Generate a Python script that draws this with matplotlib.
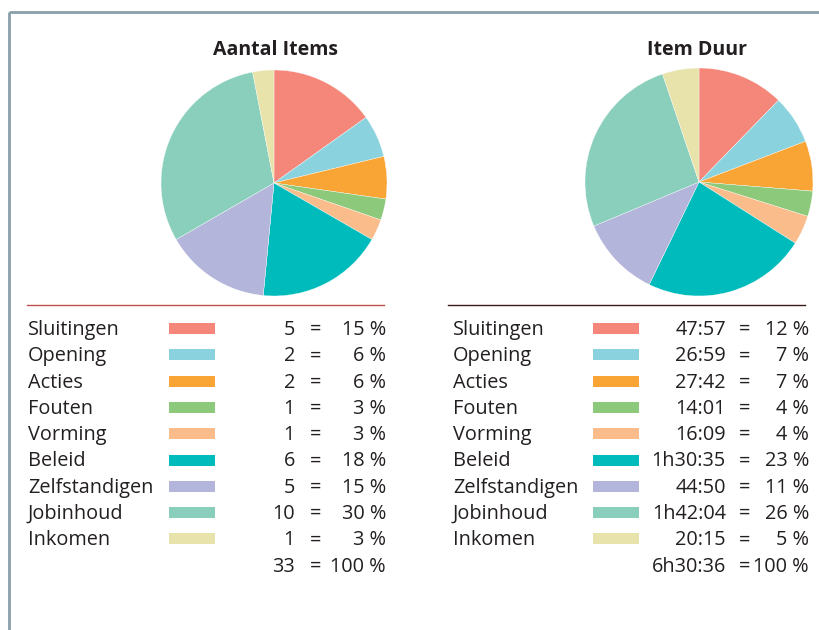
import matplotlib
matplotlib.use("Agg")
import matplotlib.pyplot as plt
from matplotlib.patches import Rectangle

plt.rcParams['font.family'] = ['Open Sans', 'DejaVu Sans']

categories = ['Sluitingen', 'Opening', 'Acties', 'Fouten', 'Vorming',
              'Beleid', 'Zelfstandigen', 'Jobinhoud', 'Inkomen']
colors = ['#f4877a', '#8ad3de', '#f9a535', '#8cc97a', '#f9bc8a',
          '#00bbbc', '#b3b5da', '#8acfbc', '#e8e3aa']

# left pie: number of items
item_counts = [5, 2, 2, 1, 1, 6, 5, 10, 1]
item_pct = [15, 6, 6, 3, 3, 18, 15, 30, 3]
item_total = '33'

# right pie: duration per item
duur_labels = ['47:57', '26:59', '27:42', '14:01', '16:09',
               '1h30:35', '44:50', '1h42:04', '20:15']
duur_pct = [12, 7, 7, 4, 4, 23, 11, 26, 5]
duur_total = '6h30:36'


def to_seconds(s):
    h = 0
    if 'h' in s:
        hs, s = s.split('h')
        h = int(hs)
    m, sec = s.split(':')
    return h * 3600 + int(m) * 60 + int(sec)


duur_seconds = [to_seconds(s) for s in duur_labels]

W, H = 820, 630
fig = plt.figure(figsize=(W / 100, H / 100), dpi=100)

# overlay in pixel coordinates for frame, legends and titles
bg = fig.add_axes([0, 0, 1, 1])
bg.set_xlim(0, W)
bg.set_ylim(H, 0)
bg.axis('off')

frame_col = '#8a9fa9'
bg.plot([9, 9], [12, H], color=frame_col, lw=2, solid_capstyle='butt')
bg.plot([9, W], [12, 12], color=frame_col, lw=2, solid_capstyle='butt')


def draw_pie(cx, cy, r, values):
    ax = fig.add_axes([(cx - r) / W, (H - cy - r) / H, 2 * r / W, 2 * r / H])
    ax.pie(values, colors=colors, startangle=90, counterclock=False,
           radius=1, wedgeprops=dict(edgecolor='white', linewidth=0.25))
    ax.set_xlim(-1, 1)
    ax.set_ylim(-1, 1)
    ax.set_aspect('auto')
    ax.axis('off')


draw_pie(274, 183, 113, item_counts)
draw_pie(699, 182, 114, duur_seconds)

bg.text(276, 55, 'Aantal Items', ha='center', va='baseline',
        fontsize=14, fontweight='bold', color='#231f20')
bg.text(697, 55, 'Item Duur', ha='center', va='baseline',
        fontsize=14, fontweight='bold', color='#231f20')

bg.plot([27, 384], [305, 305], color='#c0504d', lw=1)
bg.plot([448, 805], [305, 305], color='#3a1a1a', lw=1)

step = 26.3
row_y = [335 + step * i for i in range(len(categories))]
total_y = 335 + step * len(categories)
txt = dict(fontsize=14.3, color='#231f20', va='baseline')

for i, cat in enumerate(categories):
    y = row_y[i]
    # left table
    bg.text(28, y, cat, ha='left', **txt)
    bg.add_patch(Rectangle((169, y - 12), 46, 11, color=colors[i], lw=0))
    bg.text(295, y, str(item_counts[i]), ha='right', **txt)
    bg.text(316, y, '=', ha='center', **txt)
    bg.text(386, y, f'{item_pct[i]} %', ha='right', **txt)
    # right table
    bg.text(453, y, cat, ha='left', **txt)
    bg.add_patch(Rectangle((593, y - 12), 46, 11, color=colors[i], lw=0))
    bg.text(726, y, duur_labels[i], ha='right', **txt)
    bg.text(745, y, '=', ha='center', **txt)
    bg.text(809, y, f'{duur_pct[i]} %', ha='right', **txt)

bg.text(295, total_y, item_total, ha='right', **txt)
bg.text(316, total_y, '=', ha='center', **txt)
bg.text(386, total_y, '100 %', ha='right', **txt)
bg.text(726, total_y, duur_total, ha='right', **txt)
bg.text(745, total_y, '=', ha='center', **txt)
bg.text(809, total_y, '100 %', ha='right', **txt)

fig.savefig('out.png', dpi=100, facecolor='white')
